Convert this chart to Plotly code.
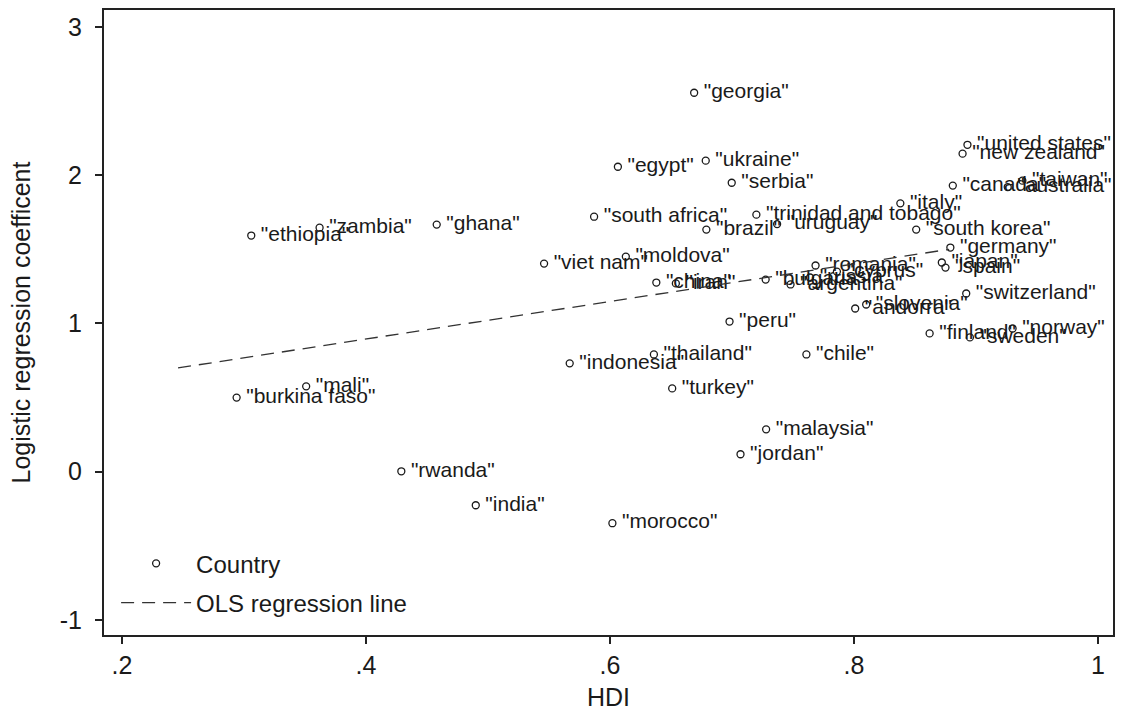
import plotly.graph_objects as go

countries = ["georgia", "united states", "new zealand", "egypt", "ukraine", "serbia",
             "canada", "taiwan", "australia", "italy", "trinidad and tobago", "south africa",
             "brazil", "uruguay", "south korea", "germany", "ethiopia", "zambia", "ghana",
             "viet nam", "moldova", "china", "iran", "romania", "bulgaria", "argentina",
             "russia", "cyprus", "andorra", "slovenia", "japan", "spain", "switzerland",
             "finland", "sweden", "norway", "peru", "chile", "indonesia", "thailand",
             "turkey", "malaysia", "jordan", "mali", "burkina faso", "rwanda", "india",
             "morocco"]
hdi = [0.669, 0.893, 0.889, 0.6065, 0.6785, 0.6998,
       0.881, 0.938, 0.926, 0.838, 0.720, 0.587,
       0.679, 0.737, 0.851, 0.879, 0.306, 0.362, 0.458,
       0.546, 0.613, 0.638, 0.654, 0.7685, 0.7276, 0.748,
       0.764, 0.786, 0.801, 0.810, 0.872, 0.875, 0.892,
       0.862, 0.895, 0.930, 0.698, 0.761, 0.567, 0.636,
       0.651, 0.728, 0.707, 0.351, 0.294, 0.429, 0.490,
       0.602]
coef = [2.556, 2.205, 2.145, 2.057, 2.098, 1.949,
        1.930, 1.963, 1.920, 1.810, 1.734, 1.720,
        1.633, 1.670, 1.633, 1.512, 1.593, 1.646, 1.667,
        1.404, 1.451, 1.276, 1.270, 1.391, 1.296, 1.263,
        1.310, 1.350, 1.101, 1.128, 1.411, 1.377, 1.202,
        0.933, 0.906, 0.966, 1.013, 0.791, 0.731, 0.791,
        0.562, 0.286, 0.118, 0.576, 0.500, 0.003, -0.226,
        -0.347]

ols_x = [0.246, 0.878]
ols_y = [0.700, 1.500]

x_ticks = [0.2, 0.4, 0.6, 0.8, 1.0]
x_tick_labels = [".2", ".4", ".6", ".8", "1"]
y_ticks = [-1, 0, 1, 2, 3]
y_tick_labels = ["-1", "0", "1", "2", "3"]

FONT = "Liberation Sans, Arial, sans-serif"
INK = "#1a1a1a"

fig = go.Figure()
fig.add_trace(go.Scatter(
    x=hdi, y=coef, mode="markers+text", name="Country", legendgroup="a",
    text=['\u2009"' + c + '"' for c in countries],
    textposition="middle right",
    textfont=dict(family=FONT, size=21, color=INK),
    marker=dict(symbol="circle-open", size=7, color=INK, line=dict(width=1.3, color=INK)),
    cliponaxis=False,
))
fig.add_trace(go.Scatter(
    x=ols_x, y=ols_y, mode="lines", name="OLS regression line", legendgroup="b",
    line=dict(color="#333333", width=1.3, dash="13px,8px"),
))

axis_common = dict(
    showgrid=False, zeroline=False, showline=True, mirror=True,
    linecolor="#222222", linewidth=2, ticks="outside", ticklen=7,
    tickwidth=1.5, tickcolor="#222222",
    tickfont=dict(family=FONT, size=25, color=INK),
    title_font=dict(family=FONT, size=25, color=INK),
)

fig.update_layout(
    width=1123, height=720,
    margin=dict(l=104, r=8, t=8, b=85),
    paper_bgcolor="white", plot_bgcolor="white",
    xaxis=dict(range=[0.1853, 1.0123], tickvals=x_ticks, ticktext=x_tick_labels,
               title=dict(text="HDI", standoff=10), **axis_common),
    yaxis=dict(range=[-1.101, 3.114], tickvals=y_ticks, ticktext=y_tick_labels,
               ticklabelstandoff=8,
               title=dict(text="Logistic regression coefficent", standoff=22), **axis_common),
    legend=dict(x=0.012, y=0.15, xanchor="left", yanchor="top",
                bgcolor="rgba(0,0,0,0)", borderwidth=0, itemwidth=70,
                tracegroupgap=5,
                font=dict(family=FONT, size=24, color=INK)),
    showlegend=True,
)

fig.write_html("out.html")
